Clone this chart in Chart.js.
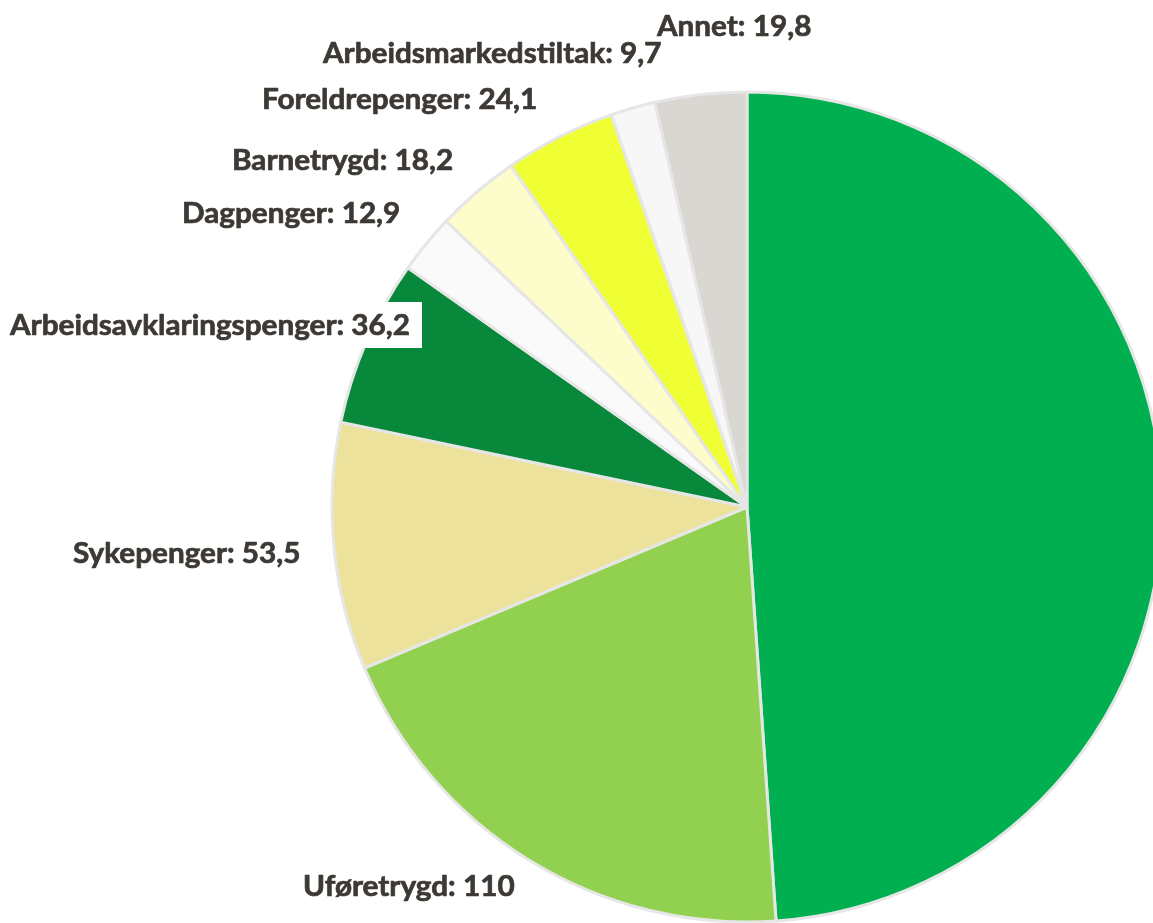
<!DOCTYPE html>
<html>
<head>
<meta charset="utf-8">
<script src="https://cdn.jsdelivr.net/npm/chart.js@4"></script>
<style>
  html, body { margin: 0; padding: 0; background: #fff; overflow: hidden; }
  #wrap { width: 1153px; height: 923px; }
</style>
</head>
<body>
<div id="wrap"><canvas id="ytelser" width="1153" height="923"></canvas></div>
<script>
// Utgifter per ytelse (mrd. kr)
const categories = ['Alderspensjon', 'Uføretrygd', 'Sykepenger', 'Arbeidsavklaringspenger', 'Dagpenger',
    'Barnetrygd', 'Foreldrepenger', 'Arbeidsmarkedstiltak', 'Annet'];
const values = [272, 110, 53.5, 36.2, 12.9, 18.2, 24.1, 9.7, 19.8];
const valueLabels = ['272', '110', '53,5', '36,2', '12,9', '18,2', '24,1', '9,7', '19,8'];

const colors = ['#00B050', '#92D050', '#ECE29C', '#08883A', '#FAFAFA', '#FDFDCC', '#F0FF33', '#F7F7F7', '#DAD7D2'];

// label placement (left x, baseline y); first label falls outside the picture
const labelPos = [null, [303, 896], [73, 563], [10, 335], [182, 223], [232, 170], [262, 109], [323, 63], [657, 36]];

const labelPlugin = {
    id: 'sliceLabels',
    afterDatasetsDraw(chart) {
        const ctx = chart.ctx;
        ctx.save();
        ctx.font = 'bold 28px Lato';
        const sx = 400 / ctx.measureText('Arbeidsavklaringspenger: 36,2').width;
        categories.forEach((cat, i) => {
            const p = labelPos[i];
            if (!p) return;
            const txt = cat + ': ' + valueLabels[i];
            const w = ctx.measureText(txt).width * sx;
            if (i === 3) {
                ctx.fillStyle = '#ffffff';
                ctx.fillRect(p[0] - 8, p[1] - 33, w + 20, 46);
            }
            ctx.save();
            ctx.translate(p[0], p[1]);
            ctx.scale(sx, 1);
            ctx.fillStyle = '#3D3935';
            ctx.strokeStyle = '#3D3935';
            ctx.lineWidth = 0.7;
            ctx.lineJoin = 'round';
            ctx.textBaseline = 'alphabetic';
            ctx.fillText(txt, 0, 0);
            ctx.strokeText(txt, 0, 0);
            ctx.restore();
        });
        ctx.restore();
    }
};

const ctx = document.getElementById('ytelser').getContext('2d');
const chart = new Chart(ctx, {
    type: 'pie',
    data: {
        labels: categories,
        datasets: [{
            data: values,
            backgroundColor: colors,
            borderColor: '#E6E6E6',
            borderWidth: 3
        }]
    },
    options: {
        responsive: false,
        animation: false,
        radius: 415,
        layout: { padding: { left: 341, right: 0, top: 91, bottom: 0 } },
        plugins: {
            legend: { display: false },
            tooltip: { enabled: false }
        }
    },
    plugins: [labelPlugin]
});
</script>
</body>
</html>
